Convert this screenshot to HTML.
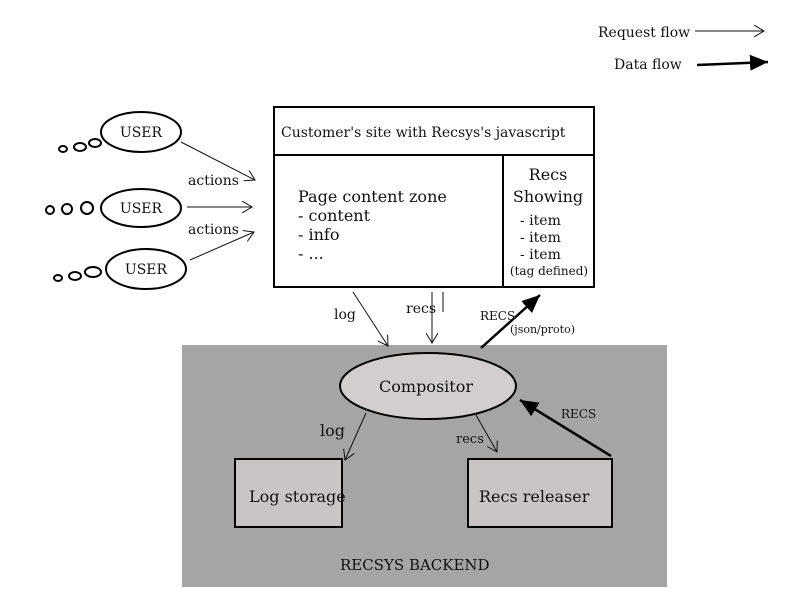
<!DOCTYPE html>
<html><head><style>body{margin:0;background:#fff}svg{display:block}text{font-family:"DejaVu Serif","Liberation Serif",serif;fill:#111}</style></head>
<body>
<svg width="800" height="600" viewBox="0 0 800 600">
<defs>
<marker id="open" markerWidth="12" markerHeight="12" refX="10" refY="6" orient="auto" markerUnits="userSpaceOnUse"><path d="M0,0 L10,6 L0,12" fill="none" stroke="#111" stroke-width="1"/></marker>
<marker id="solid" markerWidth="20" markerHeight="20" refX="18" refY="10" orient="auto" markerUnits="userSpaceOnUse"><path d="M0,2 L18,10 L0,18 Z" fill="#000"/></marker>
</defs>
<!-- legend -->
<text x="598" y="37" font-size="14">Request flow</text>
<line x1="695" y1="31" x2="764" y2="31" stroke="#111" stroke-width="1" marker-end="url(#open)"/>
<text x="614" y="69" font-size="14">Data flow</text>
<line x1="697" y1="65" x2="768" y2="62" stroke="#000" stroke-width="2.5" marker-end="url(#solid)"/>
<!-- backend -->
<rect x="182" y="345" width="485" height="242" fill="#a5a5a5"/>
<text x="340" y="570" font-size="15">RECSYS BACKEND</text>
<!-- customer box -->
<rect x="274" y="107" width="320" height="180" fill="#fff" stroke="#000" stroke-width="2"/>
<line x1="274" y1="155" x2="594" y2="155" stroke="#000" stroke-width="2"/>
<line x1="503" y1="155" x2="503" y2="287" stroke="#000" stroke-width="2"/>
<text x="281" y="137" font-size="14">Customer's site with Recsys's javascript</text>
<text x="298" y="202" font-size="16">Page content zone</text>
<text x="298" y="221" font-size="16">- content</text>
<text x="298" y="240" font-size="16">- info</text>
<text x="298" y="259" font-size="16">- ...</text>
<text x="548" y="180" font-size="16" text-anchor="middle">Recs</text>
<text x="548" y="202" font-size="16" text-anchor="middle">Showing</text>
<text x="520" y="225" font-size="14">- item</text>
<text x="520" y="242" font-size="14">- item</text>
<text x="520" y="259" font-size="14">- item</text>
<text x="549" y="275" font-size="12" text-anchor="middle">(tag defined)</text>
<!-- users -->
<g fill="#fff" stroke="#000" stroke-width="2">
<ellipse cx="141" cy="132" rx="40" ry="20"/>
<ellipse cx="141" cy="208" rx="40" ry="19"/>
<ellipse cx="146" cy="269" rx="40" ry="20"/>
<ellipse cx="95" cy="143" rx="6" ry="4"/><ellipse cx="80" cy="147" rx="6" ry="4"/><ellipse cx="63" cy="149" rx="4" ry="3"/>
<circle cx="87" cy="208" r="6"/><circle cx="67" cy="209" r="5"/><circle cx="50" cy="210" r="4"/>
<ellipse cx="93" cy="272" rx="8" ry="5"/><ellipse cx="75" cy="276" rx="6" ry="4"/><ellipse cx="58" cy="278" rx="4" ry="3"/>
</g>
<text x="141" y="137" font-size="14" text-anchor="middle">USER</text>
<text x="141" y="213" font-size="14" text-anchor="middle">USER</text>
<text x="146" y="274" font-size="14" text-anchor="middle">USER</text>
<line x1="181" y1="142" x2="255" y2="180" stroke="#111" marker-end="url(#open)"/>
<line x1="187" y1="207" x2="252" y2="207" stroke="#111" marker-end="url(#open)"/>
<line x1="190" y1="260" x2="254" y2="232" stroke="#111" marker-end="url(#open)"/>
<text x="188" y="185" font-size="14">actions</text>
<text x="188" y="234" font-size="14">actions</text>
<!-- flows to compositor -->
<line x1="353" y1="292" x2="388" y2="346" stroke="#111" marker-end="url(#open)"/>
<line x1="432" y1="292" x2="432" y2="343" stroke="#111" marker-end="url(#open)"/>
<line x1="443" y1="292" x2="443" y2="312" stroke="#111"/>
<text x="334" y="319" font-size="14">log</text>
<text x="406" y="313" font-size="14">recs</text>
<line x1="481" y1="348" x2="540" y2="295" stroke="#000" stroke-width="2.5" marker-end="url(#solid)"/>
<text x="480" y="320" font-size="12">RECS</text>
<text x="510" y="333" font-size="11">(json/proto)</text>
<!-- compositor -->
<ellipse cx="428" cy="386" rx="88" ry="33" fill="#d2cece" stroke="#000" stroke-width="2"/>
<text x="426" y="392" font-size="16" text-anchor="middle">Compositor</text>
<!-- boxes -->
<rect x="235" y="459" width="107" height="68" fill="#c9c5c5" stroke="#000" stroke-width="2"/>
<text x="249" y="502" font-size="16">Log storage</text>
<rect x="468" y="459" width="144" height="68" fill="#c9c5c5" stroke="#000" stroke-width="2"/>
<text x="479" y="502" font-size="16">Recs releaser</text>
<line x1="366" y1="413" x2="345" y2="460" stroke="#111" marker-end="url(#open)"/>
<text x="320" y="436" font-size="16">log</text>
<line x1="476" y1="415" x2="497" y2="452" stroke="#111" marker-end="url(#open)"/>
<text x="456" y="443" font-size="13">recs</text>
<line x1="611" y1="456" x2="520" y2="400" stroke="#000" stroke-width="2.5" marker-end="url(#solid)"/>
<text x="561" y="418" font-size="12">RECS</text>
</svg>
</body></html>
